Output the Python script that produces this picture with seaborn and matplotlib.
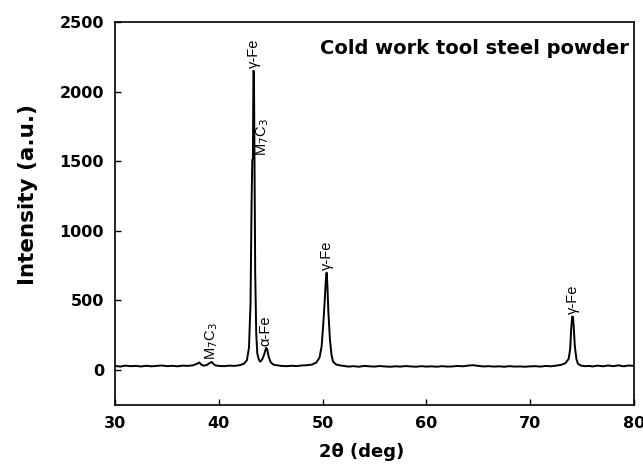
import matplotlib
matplotlib.use("Agg")
import matplotlib.pyplot as plt
import seaborn as sns
import pandas as pd

# XRD pattern
two_theta = [30.0, 30.5, 31.0, 31.5, 32.0, 32.5, 33.0, 33.5, 34.0, 34.5, 35.0, 35.5,
             36.0, 36.5, 37.0, 37.5, 37.9, 38.1, 38.3, 38.5, 38.8, 39.1, 39.3, 39.5,
             39.7, 40.0, 40.5, 41.0, 41.5, 42.0, 42.4, 42.7, 42.9, 43.05, 43.15, 43.22,
             43.28, 43.33, 43.38, 43.43, 43.5, 43.6, 43.7, 43.85, 44.0, 44.2, 44.4, 44.55,
             44.65, 44.8, 45.0, 45.3, 45.7, 46.0, 46.5, 47.0, 47.5, 48.0, 48.5, 49.0,
             49.4, 49.7, 49.9, 50.05, 50.2, 50.3, 50.38, 50.45, 50.55, 50.7, 50.85, 51.0,
             51.3, 51.7, 52.0, 52.5, 53.0, 53.5, 54.0, 54.5, 55.0, 55.5, 56.0, 56.5,
             57.0, 57.5, 58.0, 58.5, 59.0, 59.5, 60.0, 60.5, 61.0, 61.5, 62.0, 62.5,
             63.0, 63.5, 64.0, 64.5, 65.0, 65.5, 66.0, 66.5, 67.0, 67.5, 68.0, 68.5,
             69.0, 69.5, 70.0, 70.5, 71.0, 71.5, 72.0, 72.5, 73.0, 73.4, 73.7, 73.85,
             73.95, 74.05, 74.12, 74.2, 74.3, 74.45, 74.6, 74.9, 75.3, 75.7, 76.0, 76.5,
             77.0, 77.5, 78.0, 78.5, 79.0, 79.5, 80.0]
intensity = [30, 25, 32, 28, 30, 26, 31, 27, 30, 33, 28, 31,
             27, 32, 30, 34, 45, 55, 40, 32, 35, 50, 58, 42,
             33, 30, 28, 32, 30, 35, 45, 70, 160, 480, 1200, 1510,
             1520, 2150, 2140, 1500, 700, 260, 120, 75, 60, 80, 120, 160,
             150, 95, 55, 38, 33, 30, 28, 31, 29, 33, 35, 40,
             55, 90, 170, 320, 500, 640, 700, 620, 420, 220, 110, 60,
             40, 33, 30, 25, 28, 24, 30, 27, 25, 29, 26, 24,
             27, 25, 29, 26, 24, 28, 25, 27, 24, 28, 25, 26,
             30, 27, 32, 35, 30, 26, 28, 25, 27, 24, 28, 25,
             26, 24, 27, 28, 25, 30, 27, 32, 38, 50, 80, 150,
             300, 385, 380, 300, 170, 80, 45, 32, 28, 30, 26, 32,
             27, 33, 28, 34, 27, 33, 30]

peak_text = ["γ-Fe", "M$_7$C$_3$", "M$_7$C$_3$", "α-Fe", "γ-Fe", "γ-Fe"]
peak_x = [43.4, 44.2, 39.3, 44.5, 50.4, 74.1]
peak_y = [2170, 1540, 75, 170, 720, 400]

df = pd.DataFrame({"2theta": two_theta, "Intensity": intensity})

sns.set_style("ticks")
plt.rcParams["font.family"] = ["DejaVu Sans"]
plt.rcParams["xtick.direction"] = "in"
plt.rcParams["ytick.direction"] = "in"
for key in ["text.color", "axes.labelcolor", "xtick.color", "ytick.color",
            "axes.edgecolor", "xtick.labelcolor", "ytick.labelcolor"]:
    plt.rcParams[key] = "black"

fig, ax = plt.subplots(figsize=(6.43, 4.67), dpi=100)
fig.subplots_adjust(left=0.179, right=0.986, top=0.953, bottom=0.133)

sns.lineplot(data=df, x="2theta", y="Intensity", ax=ax, color="black", linewidth=1.4)

ax.set_xlim(30, 80)
ax.set_ylim(-250, 2500)
ax.set_xticks([30, 40, 50, 60, 70, 80])
ax.set_yticks([0, 500, 1000, 1500, 2000, 2500])
ax.tick_params(length=4, width=1, labelsize=11.5, pad=8)
for lab in ax.get_xticklabels() + ax.get_yticklabels():
    lab.set_fontweight("bold")
for sp in ax.spines.values():
    sp.set_linewidth(1.2)

ax.set_xlabel("2θ (deg)", fontsize=13, fontweight="bold", labelpad=6)
ax.set_ylabel("Intensity (a.u.)", fontsize=15.5, fontweight="bold", labelpad=10)
ax.xaxis.set_label_coords(0.475, -0.1)
ax.yaxis.set_label_coords(-0.148, 0.55)

ax.text(0.99, 0.955, "Cold work tool steel powder", transform=ax.transAxes,
        ha="right", va="top", fontsize=14, fontweight="bold")

for txt, xp, yp in zip(peak_text, peak_x, peak_y):
    ax.text(xp, yp, txt, rotation=90, ha="center", va="bottom", fontsize=10.5,
            family=["Liberation Sans", "DejaVu Sans"])

fig.savefig("out.png", dpi=100)
